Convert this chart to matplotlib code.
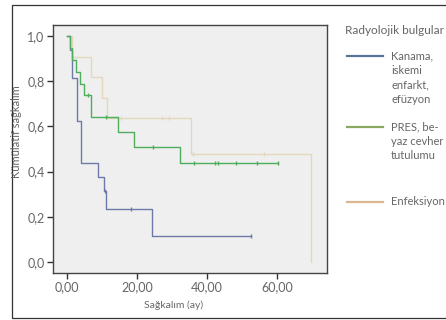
import matplotlib
matplotlib.use("Agg")
import matplotlib.pyplot as plt
from matplotlib.lines import Line2D
from matplotlib.patches import Rectangle

plt.rcParams['font.family'] = ['Lato', 'DejaVu Sans']

# ---- data ----
blue_t = [0, 1.0, 1.3, 3.0, 4.0, 9.0, 10.6, 11.2, 24.3, 52.5]
blue_s = [1.0, 0.9375, 0.8125, 0.625, 0.4375, 0.375, 0.3125, 0.234, 0.117, 0.117]
blue_ct = [10.9, 18.2, 52.5]
blue_cs = [0.3125, 0.234, 0.117]

green_t = [0, 0.9, 1.5, 2.6, 3.7, 5.0, 6.9, 14.5, 19.1, 32.3, 60.4]
green_s = [1.0, 0.947, 0.895, 0.842, 0.789, 0.737, 0.64, 0.575, 0.51, 0.44, 0.44]
green_ct = [6.1, 11.1, 24.7, 36.2, 42.3, 43.2, 48.3, 54.4, 60.4]
green_cs = [0.737, 0.64, 0.51, 0.44, 0.44, 0.44, 0.44, 0.44, 0.44]

tan_t = [0, 1.3, 7.0, 9.9, 11.3, 35.3, 69.6]
tan_s = [1.0, 0.909, 0.818, 0.727, 0.636, 0.477, 0.0]
tan_ct = [15.3, 27.2, 29.1, 35.9, 56.4]
tan_cs = [0.636, 0.636, 0.636, 0.477, 0.477]

series_labels = ["Kanama,\niskemi\nenfarkt,\nefüzyon", "PRES, be-\nyaz cevher\ntutulumu", "Enfeksiyon"]
legend_title = "Radyolojik bulgular"
xticks = [0, 20, 40, 60]
xtick_labels = ["0,00", "20,00", "40,00", "60,00"]
yticks = [0.0, 0.2, 0.4, 0.6, 0.8, 1.0]
ytick_labels = ["0,0", "0,2", "0,4", "0,6", "0,8", "1,0"]

line_colors = ["#6d7aa8", "#4fae5c", "#e3d7bd"]
legend_colors = ["#5b7399", "#8aa860", "#dcb592"]
text_color = "#666666"

W, H = 446, 320
fig = plt.figure(figsize=(W / 100, H / 100), dpi=100)
fig.patch.set_facecolor("white")

# outer border
fig.patches.append(Rectangle((12 / W, 2 / H), 1.2, (320 - 7) / H, transform=fig.transFigure,
                             fill=False, edgecolor="#333333", linewidth=0.9))

ax = fig.add_axes([53 / W, (320 - 273) / H, (327 - 53) / W, (273 - 25) / H])
ax.set_facecolor("#efefef")

for t, s, ct, cs, c in [(tan_t, tan_s, tan_ct, tan_cs, line_colors[2]),
                        (blue_t, blue_s, blue_ct, blue_cs, line_colors[0]),
                        (green_t, green_s, green_ct, green_cs, line_colors[1])]:
    ax.step(t, s, where="post", color=c, lw=1.0)
    ax.plot(ct, cs, linestyle="none", marker="|", ms=3, mew=1.0, color=c)

ax.set_xlim(-4, 74.3)
ax.set_ylim(-0.049, 1.049)
ax.set_xticks(xticks)
ax.set_xticklabels(xtick_labels)
ax.set_yticks(yticks)
ax.set_yticklabels(ytick_labels)
ax.tick_params(axis="both", direction="out", length=4, width=1, color="#333333",
               labelcolor=text_color, labelsize=9, pad=2)
for side in ["left", "bottom", "top", "right"]:
    ax.spines[side].set_color("#444444")
    ax.spines[side].set_linewidth(1.0)

fig.text(174 / W, 1 - 305 / H, "Sağkalım (ay)", ha="center", va="center",
         fontsize=7.5, color=text_color)
fig.text(17 / W, 1 - 132 / H, "Kümülatif sağkalım", ha="center", va="center",
         rotation=90, fontsize=8, color=text_color)

# legend (manual)
fig.text(345 / W, 1 - 31 / H, legend_title, ha="left", va="center", fontsize=8.5, color=text_color)
leg_y = [56, 127, 202]
for lab, col, y in zip(series_labels, legend_colors, leg_y):
    fig.add_artist(Line2D([347 / W, 383 / W], [1 - y / H, 1 - y / H], transform=fig.transFigure,
                          color=col, lw=1.6))
    fig.text(391 / W, 1 - (y - 6) / H, lab, ha="left", va="top", fontsize=8,
             color=text_color, linespacing=1.4)

fig.savefig("out.png", dpi=100)
